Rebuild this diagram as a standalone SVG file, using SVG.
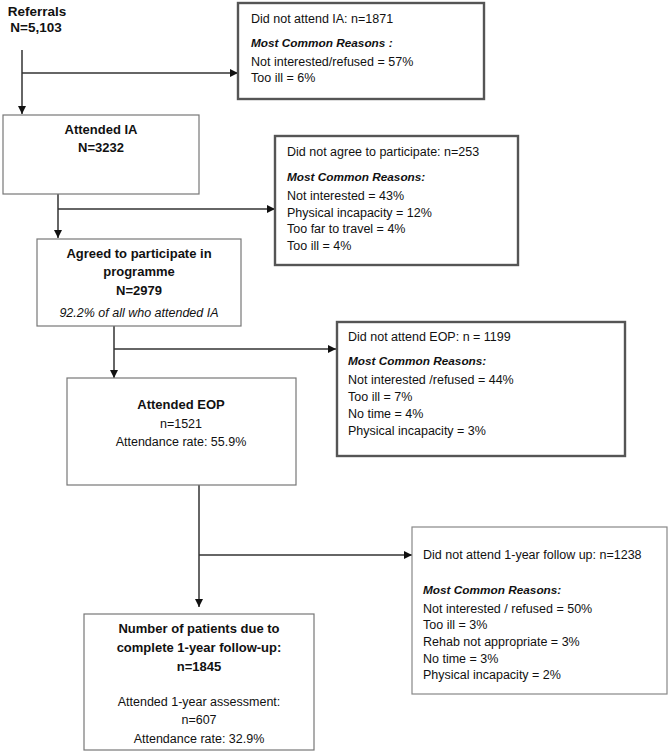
<svg xmlns="http://www.w3.org/2000/svg" width="669" height="752" viewBox="0 0 669 752">
<defs>
<style>
text{font-family:"Liberation Sans",Arial,sans-serif;font-size:12.5px;fill:#111}
.b{font-weight:bold;font-size:13px}
.bi{font-weight:bold;font-style:italic;font-size:11.8px}
.i{font-style:italic}
.c{text-anchor:middle}
.main{fill:#fff;stroke:#777;stroke-width:1.2}
.side{fill:#fff;stroke:#555;stroke-width:2.4}
.thin{fill:#fff;stroke:#888;stroke-width:1.2}
.ln{fill:none;stroke:#333;stroke-width:1.5}
</style>
<marker id="ah" viewBox="0 0 10 10" refX="10" refY="5" markerWidth="8" markerHeight="8" markerUnits="userSpaceOnUse" orient="auto">
<path d="M0,0 L10,5 L0,10 z" fill="#111"/>
</marker>
</defs>
<rect width="669" height="752" fill="#fff"/>
<g id="connectors">
<line class="ln" x1="22" y1="50" x2="22" y2="114" marker-end="url(#ah)"/>
<line class="ln" x1="22" y1="73" x2="238" y2="73" marker-end="url(#ah)"/>
<line class="ln" x1="58" y1="194" x2="58" y2="238" marker-end="url(#ah)"/>
<line class="ln" x1="58" y1="209" x2="275" y2="209" marker-end="url(#ah)"/>
<line class="ln" x1="114" y1="326" x2="114" y2="378" marker-end="url(#ah)"/>
<line class="ln" x1="114" y1="349" x2="336" y2="349" marker-end="url(#ah)"/>
<line class="ln" x1="199" y1="485" x2="199" y2="607" marker-end="url(#ah)"/>
<line class="ln" x1="199" y1="555" x2="412" y2="555" marker-end="url(#ah)"/>
</g>
<g id="referrals">
<text class="b c" x="37" y="16" style="font-size:13.5px">Referrals</text>
<text class="b c" x="36" y="32" style="font-size:13.5px">N=5,103</text>
</g>
<g id="not-attend-ia">
<rect class="side" x="238" y="3" width="246" height="96"/>
<text x="251" y="23">Did not attend IA: n=1871</text>
<text class="bi" x="251" y="47">Most Common Reasons :</text>
<text x="251" y="66">Not interested/refused = 57%</text>
<text x="251" y="82">Too ill = 6%</text>
</g>
<g id="attended-ia">
<rect class="main" x="3" y="115" width="196" height="79"/>
<text class="b c" x="101" y="134">Attended IA</text>
<text class="b c" x="101" y="152">N=3232</text>
</g>
<g id="not-agree">
<rect class="side" x="275" y="136" width="243" height="129"/>
<text x="287" y="156">Did not agree to participate: n=253</text>
<text class="bi" x="287" y="181">Most Common Reasons:</text>
<text x="287" y="200">Not interested = 43%</text>
<text x="287" y="217">Physical incapacity = 12%</text>
<text x="287" y="233">Too far to travel = 4%</text>
<text x="287" y="250">Too ill = 4%</text>
</g>
<g id="agreed">
<rect class="main" x="37" y="239" width="204" height="87"/>
<text class="b c" x="139" y="258">Agreed to participate in</text>
<text class="b c" x="139" y="276">programme</text>
<text class="b c" x="139" y="295">N=2979</text>
<text class="i c" x="139" y="317">92.2% of all who attended IA</text>
</g>
<g id="not-attend-eop">
<rect class="side" x="337" y="322" width="288" height="134"/>
<text x="348" y="341">Did not attend EOP:  n = 1199</text>
<text class="bi" x="348" y="365">Most Common Reasons:</text>
<text x="348" y="384">Not interested /refused = 44%</text>
<text x="348" y="401">Too ill = 7%</text>
<text x="348" y="418">No time = 4%</text>
<text x="348" y="435">Physical incapacity = 3%</text>
</g>
<g id="attended-eop">
<rect class="main" x="67" y="378" width="229" height="107"/>
<text class="b c" x="181" y="409">Attended EOP</text>
<text class="c" x="181" y="428">n=1521</text>
<text class="c" x="181" y="446">Attendance rate: 55.9%</text>
</g>
<g id="not-attend-followup">
<rect class="thin" x="412" y="527" width="255" height="167"/>
<text x="423" y="559">Did not attend 1-year follow up:  n=1238</text>
<text class="bi" x="423" y="594">Most Common Reasons:</text>
<text x="423" y="613">Not interested / refused = 50%</text>
<text x="423" y="629">Too ill = 3%</text>
<text x="423" y="646">Rehab not appropriate = 3%</text>
<text x="423" y="663">No time = 3%</text>
<text x="423" y="679">Physical incapacity = 2%</text>
</g>
<g id="followup">
<rect class="main" x="84" y="614" width="230" height="136"/>
<text class="b c" x="199" y="633">Number of patients due to</text>
<text class="b c" x="199" y="652">complete 1-year follow-up:</text>
<text class="b c" x="199" y="671">n=1845</text>
<text class="c" x="199" y="706">Attended 1-year assessment:</text>
<text class="c" x="199" y="724">n=607</text>
<text class="c" x="199" y="743">Attendance rate: 32.9%</text>
</g>
</svg>
